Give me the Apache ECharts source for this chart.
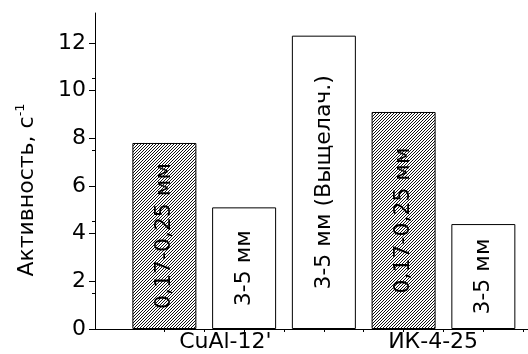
<!DOCTYPE html>
<html><head><meta charset="utf-8">
<script src="https://cdn.jsdelivr.net/npm/echarts@6/dist/echarts.min.js"></script>
<style>html,body{margin:0;padding:0;background:#fff}#c{width:528px;height:354px}</style>
</head><body><div id="c"></div>
<script>
const positions = [1, 2, 3, 4, 5];
const values = [7.8, 5.1, 12.3, 9.1, 4.4];
const barLabels = ['0,17-0,25 мм', '3-5 мм', '3-5 мм (Выщелач.)', '0,17-0,25 мм', '3-5 мм'];
const hatched = [true, false, false, true, false];
const groupNames = ["CuAl-12'", 'ИК-4-25'];
const groupLabelPos = [1.765, 4.37];
const yTicks = [0, 2, 4, 6, 8, 10, 12];
const yTitle = 'Активность, с';
const yTitleSup = '-1';

const FONT = 'DejaVu Sans';

function hatchCanvas() {
  const c = document.createElement('canvas');
  c.width = 3; c.height = 3;
  const g = c.getContext('2d');
  for (let x = 0; x < 3; x++) for (let y = 0; y < 3; y++) {
    const k = (x + y) % 3;
    g.fillStyle = k === 2 ? '#111' : '#fff';
    g.fillRect(x, y, 1, 1);
  }
  return c;
}
const pattern = { image: hatchCanvas(), repeat: 'repeat' };

const data = positions.map((x, i) => ({
  value: [x, values[i]],
  itemStyle: { color: hatched[i] ? pattern : '#fff', borderColor: '#000', borderWidth: 1 },
  label: { formatter: barLabels[i] }
}));

const tickVals = [];
for (let i = 0; i < positions.length; i++) { tickVals.push(positions[i]); tickVals.push(positions[i] + 0.5); }

const chart = echarts.init(document.getElementById('c'), null, { renderer: 'canvas' });
chart.setOption({
  animation: false,
  backgroundColor: '#fff',
  grid: { left: 95, right: 0, top: 13, bottom: 25, containLabel: false },
  graphic: [{
    type: 'text', x: 27, y: 190, rotation: Math.PI / 2,
    style: {
      text: yTitle + '{sup|' + yTitleSup + '}',
      font: '22px "DejaVu Sans"', fill: '#000', align: 'center', verticalAlign: 'middle',
      rich: { sup: { fontFamily: FONT, fontSize: 13, fill: '#000', verticalAlign: 'top', padding: [0, 0, 12, 0] } }
    }
  }],
  xAxis: {
    type: 'value', min: 0.13, max: 5.56,
    axisLine: { show: true, lineStyle: { color: '#000', width: 1 } },
    axisTick: { show: true, customValues: tickVals, length: 3, lineStyle: { color: '#000' } },
    axisLabel: {
      show: true, customValues: groupLabelPos, margin: 2,
      fontFamily: FONT, fontSize: 22, color: '#000',
      formatter: v => { const k = groupLabelPos.findIndex(p => Math.abs(p - v) < 1e-6); return k >= 0 ? groupNames[k] : ''; }
    },
    splitLine: { show: false }
  },
  yAxis: {
    type: 'value', min: 0, max: 13.25,
    axisLine: { show: true, lineStyle: { color: '#000', width: 1 } },
    axisTick: { show: true, customValues: yTicks, length: 6, lineStyle: { color: '#000' } },
    minorTick: { show: true, splitNumber: 2, length: 3, lineStyle: { color: '#000' } },
    axisLabel: { customValues: yTicks, fontFamily: FONT, fontSize: 22, color: '#000', margin: 9 },
    splitLine: { show: false }
  },
  series: [{
    type: 'bar',
    barWidth: 64,
    data: data,
    label: {
      show: true, position: 'inside', rotate: 90,
      fontFamily: FONT, fontSize: 22, color: '#000'
    }
  }]
});
</script></body></html>
